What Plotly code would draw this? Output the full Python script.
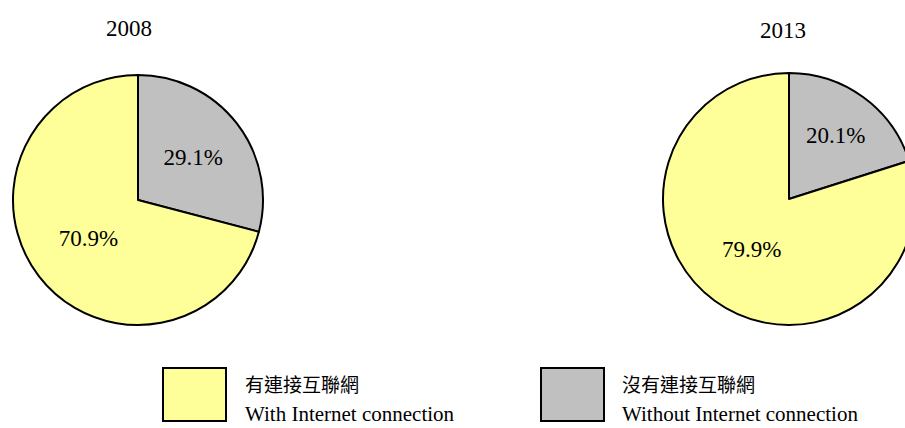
import plotly.graph_objects as go

years = ["2008", "2013"]
categories_zh = ["沒有連接互聯網", "有連接互聯網"]
categories_en = ["Without Internet connection", "With Internet connection"]
values_2008 = [29.1, 70.9]
values_2013 = [20.1, 79.9]
colors = ["#C0C0C0", "#FFFF99"]

W, H = 925, 428
SERIF = "Liberation Serif, Times New Roman, serif"
CJK = "Liberation Serif, Noto Sans CJK TC, serif"

def px(x):
    return x / W

def py(y):
    return 1 - y / H

fig = go.Figure()
domains = [
    dict(x=[px(13), px(263)], y=[py(325), py(75)]),
    dict(x=[px(663), px(915)], y=[py(325), py(73)]),
]
for yr, vals, dom in zip(years, [values_2008, values_2013], domains):
    fig.add_trace(go.Pie(
        labels=categories_en, values=vals, domain=dom,
        sort=False, direction="clockwise", rotation=0,
        marker=dict(colors=colors, line=dict(color="black", width=2)),
        texttemplate="%{value:.1f}%", textposition="inside",
        insidetextorientation="horizontal",
        textfont=dict(family=SERIF, size=23, color="black"),
        showlegend=False, hoverinfo="label+value",
    ))

# titles
for yr, x, y in zip(years, [129, 783], [28, 31]):
    fig.add_annotation(text=yr, x=px(x), y=py(y), xref="paper", yref="paper",
                       xanchor="center", yanchor="middle",
                       showarrow=False, font=dict(family=SERIF, size=23, color="black"))

# custom legend
legend_items = [(1, 163, 243), (0, 541, 620)]
for idx, bx, tx in legend_items:
    fig.add_shape(type="rect", xref="paper", yref="paper",
                  x0=px(bx), x1=px(bx + 63), y0=py(421), y1=py(368),
                  fillcolor=colors[idx], line=dict(color="black", width=2))
    fig.add_annotation(text=categories_zh[idx], x=px(tx), y=py(385), xref="paper", yref="paper",
                       xanchor="left", yanchor="middle", showarrow=False,
                       font=dict(family=CJK, size=19, color="black"))
    fig.add_annotation(text=categories_en[idx], x=px(tx), y=py(414), xref="paper", yref="paper",
                       xanchor="left", yanchor="middle", showarrow=False,
                       font=dict(family=SERIF, size=21, color="black"))

fig.update_layout(width=W, height=H, margin=dict(l=0, r=0, t=0, b=0),
                  paper_bgcolor="white", plot_bgcolor="white")

fig.write_html("out.html", config={"displayModeBar": False},
               post_script="document.body.style.margin='0';document.body.style.overflow='hidden';document.documentElement.style.overflow='hidden';")
